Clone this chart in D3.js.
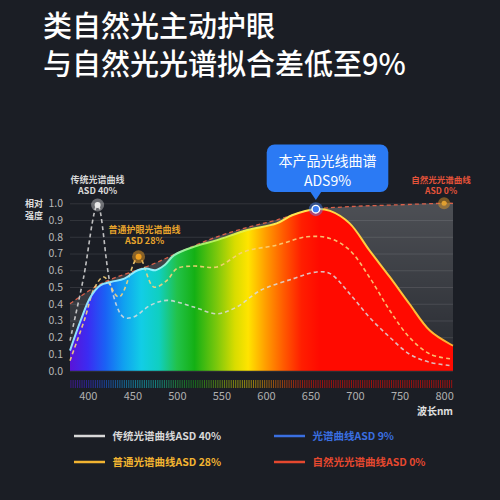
<!DOCTYPE html>
<html>
<head>
<meta charset="utf-8">
<script src="https://cdn.jsdelivr.net/npm/d3@7"></script>
<style>
body { margin: 0; background: #1b1e25; }
text { font-family: "Noto Sans CJK SC", "Noto Sans", sans-serif; }
</style>
</head>
<body>
<script>
var titleLines = ["类自然光主动护眼", "与自然光光谱拟合差低至9%"];

var xTicks = [400, 450, 500, 550, 600, 650, 700, 750, 800];
var yTicks = [0, 0.1, 0.2, 0.3, 0.4, 0.5, 0.6, 0.7, 0.8, 0.9, 1.0];

// natural light (ASD 0%)
var naturalNm  = [380, 415, 470, 508, 545, 582, 612, 650, 694, 744, 800, 810];
var naturalVal = [0.40, 0.52, 0.63, 0.72, 0.80, 0.86, 0.90, 0.96, 0.98, 0.99, 1.0, 1.0];

// this product (ASD 9%)
var productNm  = [380, 392, 403, 414, 426, 441, 456, 466, 476, 486, 497, 519, 545, 579, 612, 630, 656, 672, 694, 716, 739, 761, 784, 808, 810];
var productVal = [0.12, 0.30, 0.44, 0.51, 0.53, 0.55, 0.60, 0.61, 0.60, 0.63, 0.69, 0.74, 0.78, 0.84, 0.88, 0.93, 0.965, 0.955, 0.88, 0.72, 0.56, 0.40, 0.24, 0.155, 0.15];

// traditional (ASD 40%)
var tradNm  = [380, 395, 411, 426, 440, 451, 470, 489, 519, 545, 567, 594, 631, 657, 672, 694, 716, 739, 761, 784, 808];
var tradVal = [0.18, 0.55, 0.99, 0.50, 0.32, 0.32, 0.39, 0.42, 0.38, 0.34, 0.38, 0.48, 0.55, 0.59, 0.58, 0.46, 0.32, 0.20, 0.10, 0.05, 0.03];

// ordinary eye-care (ASD 28%)
var normalNm  = [380, 396, 408, 418, 435, 457, 474, 489, 500, 519, 545, 575, 612, 646, 672, 694, 716, 739, 761, 784, 808];
var normalVal = [0.06, 0.30, 0.50, 0.56, 0.44, 0.68, 0.50, 0.54, 0.61, 0.625, 0.62, 0.71, 0.75, 0.80, 0.79, 0.72, 0.56, 0.36, 0.20, 0.10, 0.07];

var legendNames  = ["传统光谱曲线ASD 40%", "光谱曲线ASD 9%", "普通光谱曲线ASD 28%", "自然光光谱曲线ASD 0%"];
var legendColors = ["#d8d8d8", "#3a6fe0", "#f2b431", "#e5482f"];

var spectrumNm     = [380, 400, 420, 440, 460, 480, 500, 520, 545, 565, 580, 600, 620, 640, 660, 810];
var spectrumColors = ["#5a14d8", "#3b2cf2", "#1a62f5", "#10a0f0", "#12cde6", "#10cfc0", "#22c24a", "#14b014", "#7cc80c", "#d8dc00", "#ffe400", "#ff9c00", "#ff5a00", "#ff1e00", "#ff0a00", "#ff0a00"];

function zip(nm, val) {
    return nm.map(function(d, i) { return {nm: d, v: val[i]}; });
}
var natural = zip(naturalNm, naturalVal);
var product = zip(productNm, productVal);
var trad = zip(tradNm, tradVal);
var normal = zip(normalNm, normalVal);

var svg = d3.select("body").append("svg")
    .attr("width", 500)
    .attr("height", 500);

svg.append("rect").attr("width", 500).attr("height", 500).attr("fill", "#1b1e25");

var x = d3.scaleLinear().domain([380, 810]).range([70, 453]);
var y = d3.scaleLinear().domain([0, 1]).range([370.7, 203.3]);
var spec = d3.scaleLinear().domain(spectrumNm).range(spectrumColors);

var defs = svg.append("defs");

var rainbow = defs.append("linearGradient").attr("id", "rainbow")
    .attr("gradientUnits", "userSpaceOnUse")
    .attr("x1", x(380)).attr("x2", x(810)).attr("y1", 0).attr("y2", 0);
rainbow.selectAll("stop").data(spectrumNm).enter().append("stop")
    .attr("offset", function(d) { return (d - 380) / 430; })
    .attr("stop-color", function(d) { return spec(d); });

var edge = defs.append("linearGradient").attr("id", "edge")
    .attr("gradientUnits", "userSpaceOnUse")
    .attr("x1", x(380)).attr("x2", x(810)).attr("y1", 0).attr("y2", 0);
edge.append("stop").attr("offset", 0).attr("stop-color", "#8fdcff");
edge.append("stop").attr("offset", 0.22).attr("stop-color", "#8ff2ff");
edge.append("stop").attr("offset", 0.33).attr("stop-color", "#9cf070");
edge.append("stop").attr("offset", 0.45).attr("stop-color", "#e8f040");
edge.append("stop").attr("offset", 0.55).attr("stop-color", "#ffe850");
edge.append("stop").attr("offset", 1).attr("stop-color", "#ffb030");

var shade = defs.append("linearGradient").attr("id", "shade")
    .attr("x1", 0).attr("x2", 0).attr("y1", 0).attr("y2", 1);
shade.append("stop").attr("offset", 0).attr("stop-color", "#ffffff").attr("stop-opacity", 0.22);
shade.append("stop").attr("offset", 1).attr("stop-color", "#ffffff").attr("stop-opacity", 0.05);

// title
svg.selectAll(".title").data(titleLines).enter().append("text")
    .attr("class", "title")
    .attr("x", 43)
    .attr("y", function(d, i) { return 37 + i * 38; })
    .attr("fill", "#ffffff")
    .attr("font-size", 29)
    .attr("font-weight", 500)
    .text(function(d) { return d; });

var curve = d3.curveCatmullRom.alpha(0.5);

// natural light shaded area
svg.append("path").datum(natural)
    .attr("fill", "url(#shade)")
    .attr("d", d3.area().curve(curve)
        .x(function(d) { return x(d.nm); })
        .y0(y(0))
        .y1(function(d) { return y(d.v); }));

// grid lines
svg.append("g")
    .attr("transform", "translate(" + x(380) + ",0)")
    .call(d3.axisLeft(y).tickValues(yTicks).tickSize(-(x(810) - x(380))).tickFormat(""))
    .call(function(g) { g.select(".domain").remove(); })
    .selectAll("line").attr("stroke", "#ffffff").attr("stroke-opacity", 0.1);

// y labels
svg.append("g")
    .attr("transform", "translate(" + x(380) + ",0)")
    .call(d3.axisLeft(y).tickValues(yTicks).tickSize(0).tickPadding(7).tickFormat(d3.format(".1f")))
    .call(function(g) { g.select(".domain").remove(); })
    .selectAll("text")
    .attr("fill", "#b8b8b8")
    .attr("font-size", 10.5)
    .attr("font-family", "\"Noto Sans\", sans-serif");

svg.selectAll(".ylab").data(["相对", "强度"]).enter().append("text")
    .attr("class", "ylab")
    .attr("x", 34)
    .attr("y", function(d, i) { return 206.5 + i * 12.5; })
    .attr("text-anchor", "middle")
    .attr("fill", "#dddddd")
    .attr("font-size", 9)
    .attr("font-weight", "bold")
    .text(function(d) { return d; });

// product area
svg.append("path").datum(product)
    .attr("fill", "url(#rainbow)")
    .attr("d", d3.area().curve(curve)
        .x(function(d) { return x(d.nm); })
        .y0(y(0))
        .y1(function(d) { return y(d.v); }));

var line = d3.line().curve(curve)
    .x(function(d) { return x(d.nm); })
    .y(function(d) { return y(d.v); });

svg.append("path").datum(natural)
    .attr("fill", "none")
    .attr("stroke", "#d9604a")
    .attr("stroke-width", 1.3)
    .attr("stroke-dasharray", "4,3")
    .attr("d", line);

svg.append("path").datum(trad)
    .attr("fill", "none")
    .attr("stroke", "#dcdcdc")
    .attr("stroke-opacity", 0.85)
    .attr("stroke-width", 1.6)
    .attr("stroke-dasharray", "4,3")
    .attr("d", line);

svg.append("path").datum(normal)
    .attr("fill", "none")
    .attr("stroke", "#f8d27a")
    .attr("stroke-opacity", 0.9)
    .attr("stroke-width", 1.6)
    .attr("stroke-dasharray", "4,3")
    .attr("d", line);

svg.append("path").datum(product)
    .attr("fill", "none")
    .attr("stroke", "url(#edge)")
    .attr("stroke-width", 2)
    .attr("d", line);

// spectrum strip
svg.selectAll(".strip").data(d3.range(381, 810, 2.5)).enter().append("rect")
    .attr("class", "strip")
    .attr("x", function(d) { return x(d) - 0.5; })
    .attr("y", 380)
    .attr("width", 1)
    .attr("height", 8)
    .attr("fill", function(d) { return spec(d); })
    .attr("opacity", 0.55);

// x axis
svg.append("g")
    .attr("transform", "translate(0,388)")
    .call(d3.axisBottom(x).tickValues(xTicks).tickSize(0).tickPadding(4))
    .call(function(g) { g.select(".domain").remove(); })
    .selectAll("text")
    .attr("fill", "#b0b0b0")
    .attr("font-size", 11)
    .attr("font-family", "\"Noto Sans\", sans-serif");

svg.append("text")
    .attr("x", 453).attr("y", 415)
    .attr("text-anchor", "end")
    .attr("fill", "#e0e0e0")
    .attr("font-size", 10)
    .attr("font-weight", "bold")
    .text("波长nm");

// markers
function marker(nm, v, glow, core, r) {
    svg.append("circle").attr("cx", x(nm)).attr("cy", y(v)).attr("r", r + 3.5).attr("fill", glow);
    svg.append("circle").attr("cx", x(nm)).attr("cy", y(v)).attr("r", r).attr("fill", core);
}
marker(tradNm[2], tradVal[2], "rgba(255,255,255,0.35)", "#e8e8e8", 3);
marker(normalNm[5], normalVal[5], "rgba(240,160,40,0.5)", "#f0a020", 3);
marker(naturalNm[10], naturalVal[10], "rgba(220,150,40,0.5)", "#e0a030", 2.5);

svg.append("circle").attr("cx", x(productNm[16])).attr("cy", y(productVal[16])).attr("r", 7).attr("fill", "rgba(80,140,255,0.45)");
svg.append("circle").attr("cx", x(productNm[16])).attr("cy", y(productVal[16])).attr("r", 3.8)
    .attr("fill", "#3d7cf0").attr("stroke", "#ffffff").attr("stroke-width", 1.4);

// annotations
function note(cx, yy, lines, color, size) {
    svg.selectAll(null).data(lines).enter().append("text")
        .attr("x", cx)
        .attr("y", function(d, i) { return yy + i * 11.7; })
        .attr("text-anchor", "middle")
        .attr("fill", color)
        .attr("font-size", size)
        .attr("font-weight", "bold")
        .text(function(d) { return d; });
}
note(x(tradNm[2]), 182.5, ["传统光谱曲线", "ASD 40%"], "#d8d8d8", 9);
note(x(normalNm[5]) + 6, 232.5, ["普通护眼光谱曲线", "ASD 28%"], "#e9a52c", 9);
note(x(naturalNm[10]) - 3, 182.5, ["自然光光谱曲线", "ASD 0%"], "#e5533a", 8.5);

// callout
var px = x(productNm[16]);
svg.append("rect")
    .attr("x", 266.7).attr("y", 144.5)
    .attr("width", 121.6).attr("height", 47.5)
    .attr("rx", 8)
    .attr("fill", "#2b7af4");
svg.append("path")
    .attr("d", "M" + (px - 6) + ",191 L" + (px + 6) + ",191 L" + px + ",200 Z")
    .attr("fill", "#2b7af4");
svg.selectAll(".call").data(["本产品光线曲谱", "ADS9%"]).enter().append("text")
    .attr("class", "call")
    .attr("x", 327.5)
    .attr("y", function(d, i) { return 165.5 + i * 20.5; })
    .attr("text-anchor", "middle")
    .attr("fill", "#ffffff")
    .attr("font-size", 14)
    .text(function(d) { return d; });

// legend
var lg = svg.selectAll(".legend").data(legendNames).enter().append("g")
    .attr("class", "legend")
    .attr("transform", function(d, i) {
        return "translate(" + (i % 2 === 0 ? 74 : 274) + "," + (i < 2 ? 436 : 462) + ")";
    });
lg.append("line")
    .attr("x1", 0).attr("x2", 31)
    .attr("stroke", function(d, i) { return legendColors[i]; })
    .attr("stroke-width", 2.5);
lg.append("text")
    .attr("x", 38.5).attr("y", 3.8)
    .attr("fill", function(d, i) { return legendColors[i]; })
    .attr("font-size", 10.5)
    .attr("font-weight", "bold")
    .text(function(d) { return d; });
</script>
</body>
</html>
